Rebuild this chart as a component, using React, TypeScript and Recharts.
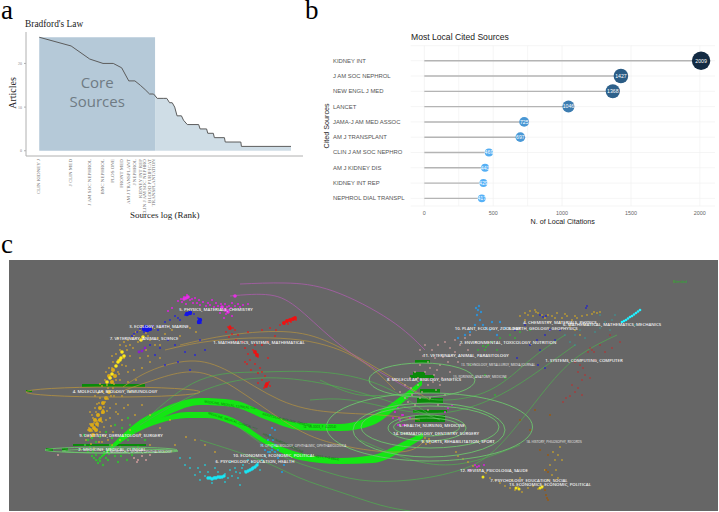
import React from "react";
import { Area, Bar, CartesianGrid, ComposedChart, Line, ReferenceArea, Scatter, XAxis, YAxis } from "recharts";

// ---- Panel a: Bradford's law
const bradfordRanks = [1, 2, 3, 4, 5, 6, 7, 8, 9, 10, 11, 12, 13, 15, 16, 17, 18, 19, 20, 22, 23, 25, 32, 33, 38, 39, 44, 45, 56, 57, 80, 81, 238];
const bradfordArticles = [26, 24, 21, 20, 20, 19, 16, 16, 15, 14, 13, 13, 12, 12, 12, 11, 11, 10, 8, 8, 7, 6, 6, 5, 5, 4, 4, 3, 3, 2, 2, 1, 1];
const coreTickRanks = [1, 2, 3, 4, 5, 6, 7, 8, 9, 10, 11, 12];
const coreSources = ["CLIN KIDNEY J", "J CLIN MED", "J AM SOC NEPHROL", "BMC NEPHROL", "PLOS ONE", "FRONT MED", "AM J TRANSPLANT", "J NEPHROL", "KIDNEY INT REP", "CLIN J AM SOC NEPHRO", "BLOOD PURIFICAT", "TRANSPLANTATION"];

// ---- Panel b: most local cited sources
const citedSources = ["KIDNEY INT", "J AM SOC NEPHROL", "NEW ENGL J MED", "LANCET", "JAMA-J AM MED ASSOC", "AM J TRANSPLANT", "CLIN J AM SOC NEPHRO", "AM J KIDNEY DIS", "KIDNEY INT REP", "NEPHROL DIAL TRANSPL"];
const citedCounts = [2009, 1427, 1368, 1046, 725, 697, 469, 441, 429, 417];

// ---- Panel c: dual map overlay in map units
type P = [number, number];
const goldLeft: P[] = [[88,430],[90,424],[93,418],[96,412],[91,437],[94,428],[99,420],[102,413],[97,404],[100,398],[104,407],[108,399],[103,392],[107,385],[111,378],[114,384],[118,372],[112,368],[118,360],[122,352],[126,346],[120,345],[128,340],[134,335],[140,330],[146,333],[152,328],[138,342],[130,356],[126,366],[120,380],[116,392],[110,408],[106,420],[100,432],[94,436],[98,426],[104,427],[110,418],[116,404],[122,396],[128,382],[134,370],[140,358],[146,350],[133,348],[124,358],[128,372],[116,412],[122,420],[130,430],[140,434],[108,440],[102,442],[113,432],[86,440],[90,412],[95,396],[100,384],[106,372],[112,356],[118,338],[150,340],[158,338],[165,334],[172,330],[180,336],[190,328],[196,332],[160,345],[150,362],[160,358],[142,405],[150,415],[170,420],[160,428],[175,445],[186,437],[195,440],[150,445],[165,452],[205,445],[215,452]];
const goldLeftExtra: P[] = [[89,428],[92,431],[94,423],[97,421],[92,415],[95,408],[99,403],[101,418],[103,410],[105,402],[98,393],[102,386],[105,380],[108,388],[111,396],[113,388],[116,380],[109,368],[113,362],[116,354],[120,350],[124,342],[130,345],[132,338],[136,332],[142,326],[148,336],[127,350],[122,365],[119,374],[114,396],[107,411],[102,422],[97,434],[88,436],[91,444],[99,442],[105,436],[111,426],[118,414],[124,408],[130,392],[136,380],[142,368],[148,356],[155,345],[128,405],[135,415],[112,445],[120,440],[94,448],[100,450]];
const goldLeftCore: P[] = [[92,425],[95,420],[98,415],[100,408],[103,403],[96,430],[93,435],[106,398],[109,392],[112,382],[115,376],[109,376],[113,370],[90,430],[94,428],[97,424],[100,420],[103,412]];
const yellowLeftCore: P[] = [[118,362],[121,358],[124,356],[110,378],[107,382],[143,337],[141,340],[122,352],[112,374],[116,366],[120,360]];
const magentaTop: P[] = [[178,301],[181,299],[184,297],[187,298],[187,295],[190,300],[193,303],[197,303],[200,305],[203,302],[206,306],[210,305],[214,307],[218,306],[222,308],[225,304],[228,310],[226,314],[229,306],[232,303],[235,296],[238,304],[243,305],[248,304],[186,304],[195,298],[212,300],[220,313],[232,316],[224,318],[172,308],[168,311],[182,302],[192,299],[199,300],[208,303],[216,303],[221,304],[227,307],[231,308],[235,306],[240,307]];
const magentaCore: P[] = [[186,298],[184,299],[188,297],[222,307],[225,310],[228,312],[235,296]];
const blueTop: P[] = [[140,329],[143,327],[146,329],[148,331],[150,328],[153,326],[144,332],[137,332],[134,334],[132,336],[188,313],[191,312],[185,315],[194,314],[198,318],[200,320],[201,323],[198,323],[175,316],[178,318],[170,320],[165,322],[180,320],[158,330],[163,326],[150,345],[160,348],[155,355],[175,345],[185,352],[195,355],[165,365],[190,370],[200,340],[168,340],[205,350],[178,362]];
const blueCore: P[] = [[144,329],[147,330],[150,329],[146,327],[200,320],[199,322],[190,313],[187,314]];
const purpleLeft: P[] = [[142,351],[145,348],[139,352]];
const redTop: P[] = [[283,323],[286,321],[289,320],[292,319],[294,318],[296,320],[280,325],[288,324],[291,322],[228,327],[230,326],[233,328],[226,332],[235,330],[232,334],[238,335],[229,337],[236,340],[243,342],[248,332],[262,330],[270,328],[276,330],[262,345],[268,342],[253,350],[256,354],[258,357],[245,348],[248,354],[250,360],[255,364],[260,368],[251,370],[258,373],[262,372],[265,376],[247,364],[268,358],[262,380],[266,384],[269,382],[264,388],[270,386],[258,383],[255,345],[275,336],[245,362]];
const redCore: P[] = [[284,323],[287,321],[290,320],[293,319],[295,318],[255,352],[257,355],[267,384],[266,386],[230,328]];
const greenLeft: P[] = [[84,435],[88,440],[92,438],[96,442],[100,437],[85,445],[90,447],[96,455],[100,458],[104,452],[110,445],[115,456],[120,447],[128,440],[125,452],[132,455],[138,447],[108,460],[92,456],[118,462],[98,463],[103,465],[130,425],[122,428],[115,425],[135,432],[128,418],[145,440],[106,432],[112,438],[96,460],[100,461],[102,456],[94,458],[106,458],[88,452],[93,451],[109,454],[113,450],[121,456],[127,460],[133,448]];
const pinkLeft: P[] = [[134,458],[138,460],[142,456],[137,462],[146,460],[150,455],[140,450],[58,455]];
const cyanLow: P[] = [[180,458],[185,465],[190,468],[195,475],[200,472],[205,476],[210,478],[215,477],[220,478],[225,474],[230,470],[235,468],[240,473],[245,471],[250,470],[253,468],[256,466],[258,463],[262,460],[265,456],[270,452],[272,447],[200,480],[212,483],[225,482],[238,478],[243,465],[215,468],[230,462],[205,465],[190,458],[248,460],[240,485],[198,468],[208,472],[218,472],[228,478],[236,472],[242,468],[252,462],[260,470],[232,476]];
const cyanLowCore: P[] = [[208,478],[210,478],[212,479],[214,478],[216,478],[218,477],[220,477],[222,477],[224,476],[246,472],[248,471],[250,470],[252,469],[253,468],[255,467],[257,465]];
const skyLow: P[] = [[268,440],[270,435],[272,428],[275,430],[262,445],[265,450],[275,445],[278,450],[280,455],[284,465],[282,472],[278,458],[268,452],[273,440],[275,452],[272,450]];
const pinkRight: P[] = [[420,350],[425,345],[432,350],[438,345],[445,342],[450,348],[455,352],[435,358],[428,362],[440,365],[448,362],[420,365],[415,372],[425,372],[434,375],[442,378],[450,372],[410,378],[418,385],[428,385],[436,390],[405,385],[400,392],[412,395],[420,398],[430,398],[440,385],[455,340],[460,345],[465,338],[470,335],[476,342],[468,350],[458,362],[445,395],[408,402],[415,405],[428,410],[438,405],[423,356],[430,368],[437,370],[443,357],[418,378],[426,380],[433,382],[411,388],[405,398],[422,392]];
const magentaRight: P[] = [[395,412],[398,408],[403,415],[400,420],[405,425],[410,418],[445,412],[448,408],[452,405],[398,425],[393,418],[402,415],[399,418],[403,425],[475,465],[477,467],[479,466],[470,470],[484,465]];
const goldRight: P[] = [[425,438],[427,441],[429,439],[426,444],[430,443],[423,442],[456,452],[458,456],[463,459],[468,462],[473,466],[480,470],[486,473],[490,478],[495,480],[500,483],[505,486],[510,488],[515,490],[518,487],[522,492],[528,488],[533,486],[538,489],[543,486],[548,480],[552,475],[556,470],[545,470],[550,465],[555,460],[558,455],[560,447],[553,452],[562,460],[558,478],[520,478],[512,480],[520,316],[525,313],[530,311],[535,310],[538,313],[542,315],[533,316],[545,318],[552,316],[557,313],[562,318],[567,316],[572,320],[577,318],[582,316],[587,315],[592,314],[597,313],[600,312],[570,326],[575,330],[580,335],[560,322],[585,325],[550,322],[525,320],[528,315],[536,312],[548,315],[555,318],[565,314],[575,316],[594,312]];
const yellowBottom: P[] = [[516,488],[519,489],[540,488],[542,487],[483,477]];
const brownBottom: P[] = [[547,498],[546,495],[548,500],[545,490],[546,470],[548,472],[555,480],[548,455],[540,450],[530,430],[520,420],[535,410],[550,415]];
const blueRight: P[] = [[540,315],[543,317],[546,316],[586,308],[587,306],[550,330],[545,335],[537,340],[525,325],[560,330],[530,345],[540,350],[517,358],[555,340],[515,330],[538,365],[545,368]];
const cyanStreak: P[] = [[622,322],[624,321],[626,320],[628,318.5],[630,317],[632,316],[634,314.5],[636,313],[638,311.5],[640,310]];
const tealRight: P[] = [[575,335],[580,330],[590,325],[600,328],[605,322],[612,320],[620,325],[610,330],[595,332],[585,338],[570,342],[615,315],[635,325],[575,345],[600,315],[565,335]];
const redRight: P[] = [[590,348],[592,350],[588,352],[594,352],[605,352],[612,348],[620,342],[575,362],[580,365],[583,368],[578,372],[585,375],[582,380],[590,378],[572,385],[575,392],[570,396],[566,398],[578,388],[563,402],[582,395],[595,360],[600,345],[610,335]];
const greenRight: P[] = [[483,346],[486,347],[488,345],[485,350],[492,342],[500,338],[510,335],[520,332],[478,350],[515,338],[530,330],[497,350],[470,365],[485,375],[495,395],[505,378]];
const skyRight: P[] = [[476,308],[478,310],[479,306],[481,312],[477,315],[480,320],[483,325],[486,328],[490,330],[475,325],[470,332],[465,335],[492,322],[500,322],[505,328],[497,335],[458,338]];

const greenArcs: P[][] = [
  [[145,420],[200,380],[260,372],[320,372],[380,385],[430,415]],
  [[140,425],[200,392],[260,378],[330,385],[400,405],[440,420]],
  [[200,440],[260,460],[300,478],[340,492],[380,505],[410,511]],
  [[240,428],[280,455],[320,470],[360,480],[410,480],[460,470],[500,445],[545,390],[580,355],[617,335]],
  [[310,400],[350,400],[400,410],[450,412],[500,395],[540,370],[575,345]],
  [[320,380],[360,395],[400,395],[440,400],[490,390],[530,360],[565,335]],
  [[360,440],[420,462],[470,462],[520,445]],
];
const orangeArcs: P[][] = [
  [[123,387],[150,371],[190,361],[230,372],[280,400],[330,412],[380,415],[420,420]],
  [[125,390],[160,378],[195,372],[235,388],[290,425],[340,445],[400,452],[425,440]],
  [[180,345],[230,335],[290,332],[335,345],[380,370],[430,400]],
  [[165,350],[220,340],[300,340],[360,360],[395,390]],
];
const magentaArcs: P[][] = [
  [[240,284],[285,283],[333,291],[390,320],[425,350]],
  [[230,296],[270,295],[300,310],[340,345],[385,375],[420,395]],
];
const ribbonUpper: [number, number, number][] = [[96,462,462],[120,437,443],[140,420,430],[153,413,423],[170,405,414],[200,398,405],[233,400,407],[267,413,420],[300,423,430],[340,424,431],[373,415,425],[400,397,405],[422,380,385]];
const ribbonLower: [number, number, number][] = [[96,462,462],[130,430,436],[160,418,423],[187,412,418],[207,412,418],[233,418,425],[267,440,445],[300,453,460],[340,458,464],[373,455,463],[407,440,448],[423,433,438]];

const ellipsesGold = [[113,392,87,5]];
const ellipsesGreen = [[422,380,53,17],[429.5,427,103,34],[429,430,76,27],[430,427,69,21],[427,428,39,13],[426.6,427,33,9],[111,450,66,3],[120,451,58,2]];
const citationBars = [[82,145,384,387],[26,32,390,392],[73,146,444,446],[46,53,448,451],[62,68,448,451],[415,430,360,363],[413,425,372,376],[410,434,375,378],[420,440,389,393],[417,443,398,403],[413,447,410,413],[415,445,415,422]];

const mapLabelText = ["5. PHYSICS, MATERIALS, CHEMISTRY","3. ECOLOGY, EARTH, MARINE","7. VETERINARY, ANIMAL, SCIENCE","1. MATHEMATICS, SYSTEMS, MATHEMATICAL","4. MOLECULAR, BIOLOGY, IMMUNOLOGY","9. DENTISTRY, DERMATOLOGY, SURGERY","2. MEDICINE, MEDICAL, CLINICAL","10. ECONOMICS, ECONOMIC, POLITICAL","6. PSYCHOLOGY, EDUCATION, HEALTH","4. CHEMISTRY, MATERIALS, PHYSICS","6. MATHEMATICAL, MATHEMATICS, MECHANICS","10. PLANT, ECOLOGY, ZOOLOGY","3. EARTH, GEOLOGY, GEOPHYSICS","2. ENVIRONMENTAL, TOXICOLOGY, NUTRITION","1. SYSTEMS, COMPUTING, COMPUTER","11. VETERINARY, ANIMAL, PARASITOLOGY","8. MOLECULAR, BIOLOGY, GENETICS","5. HEALTH, NURSING, MEDICINE","14. DERMATOLOGY, DENTISTRY, SURGERY","9. SPORTS, REHABILITATION, SPORT","12. REVISTA, PSICOLOGIA, SAUDE","7. PSYCHOLOGY, EDUCATION, SOCIAL","13. ECONOMICS, ECONOMIC, POLITICAL"];
const mapLabelX = [216,159,144,259,115,121,112,274,255,560,612,487.7,543,508,584,466,424,432,436,458,494,529,550];
const mapLabelY = [309,326,338,342,391,435,449,455,461,322,324,328,328,342,360,355,379,425,433,441,470,480,484];
const tinyLabelText = ["8. NEUROLOGY, SPORTS, OPHTHALMOLOGY","16. OPHTHALMOLOGY, OPHTHALMIC, OPHTHAMOLOGICA","13. TECHNOLOGY, METALLURGY, MEDIA JOURNAL","15. FORENSIC, ANATOMY, MEDICINE","18. HISTORY, PHILOSOPHY, RECORDS"];
const tinyLabelX = [139,303,498,480,554];
const tinyLabelY = [452,446,365,377,442];
const ribbonText = ["MEDICINE, MEDICAL, CLINICAL ==>","MOLECULAR, BIOLOGY, GENETICS","(Z=55.0003, F=4.2204)","MEDICINE, MEDICAL, CLINICAL ==>","HEALTH, NURSING, MEDICINE","(Z=48.2011, F=3.8802)"];
const ribbonTextX = [230,287,320,233,283,323];
const ribbonTextY = [405,420,427,421,443,457];
const ribbonTextAngle = [8,14,0,18,25,8];

const SANS = "'Liberation Sans', Arial, sans-serif";
const SERIF = "'Liberation Serif', 'Times New Roman', serif";
const MAP = "'Open Sans', 'Noto Sans', sans-serif";

const toXY = (pts: P[]) => pts.map(([x, y]) => ({ x, y }));

function bubbleColor(v: number) {
  const t = (v - 417) / (2009 - 417);
  const lo = [86, 177, 247], hi = [19, 43, 67];
  return `rgb(${lo.map((c, i) => Math.round(c + (hi[i] - c) * t)).join(",")})`;
}
const bubbleRadius = (v: number) => 3.9 + ((v - 417) / 1592) * 5.3;

const bradfordData = bradfordRanks.map((rank, i) => ({ rank, articles: bradfordArticles[i] }));
const tailData = [{ rank: 12.4, articles: 13 }, ...bradfordData.filter((d) => d.rank > 12.4)];
const citedData = citedSources.map((name, i) => ({ name, value: citedCounts[i] }));

function BradfordTick(props: any) {
  const { x, payload } = props;
  const name = coreSources[coreTickRanks.indexOf(payload.value)] ?? "";
  return (
    <text x={0} y={0} transform={`translate(${x + 1.2},129) rotate(-90) scale(1.4,1)`} textAnchor="end" fontSize={3.6} fontFamily={SERIF} fill="#777">
      {name}
    </text>
  );
}

function CitedTick(props: any) {
  const { y, payload } = props;
  return (
    <text x={13} y={y + 2} fontSize={5.9} fontFamily={SANS} fill="#555">
      {payload.value}
    </text>
  );
}

function Bubble(props: any) {
  const { cx, cy, payload } = props;
  if (cx == null) return null;
  const v = payload.value;
  return (
    <g>
      <circle cx={cx} cy={cy} r={bubbleRadius(v)} fill={bubbleColor(v)} />
      <text x={cx} y={cy + 1.9} textAnchor="middle" fontSize={5.2} fontFamily={SANS} fill="#fff">{v}</text>
    </g>
  );
}

function dots(color: string, r: number, opacity = 1) {
  return (p: any) => <circle cx={p.cx} cy={p.cy} r={r} fill={color} fillOpacity={opacity} />;
}

const ellipseShape = (color: string, width: number) => (p: any) => {
  const e = p.payload ?? p;
  return <ellipse cx={p.cx} cy={p.cy} rx={e.rx} ry={e.ry} fill="none" stroke={color} strokeWidth={width} />;
};

const labelShape = (fill: string, size: number, weight: number) => (p: any) => {
  const e = p.payload ?? p;
  return (
    <text x={p.cx} y={p.cy} dy={size * 0.35} textAnchor="middle" fontSize={size} fontWeight={weight} fontFamily={MAP} fill={fill}
      transform={e.angle ? `rotate(${e.angle} ${p.cx} ${p.cy})` : undefined}>
      {e.text}
    </text>
  );
};

const pointLayers: [P[], string, number, number][] = [
  [goldLeft, "#d6a72a", 0.9, 0.85],
  [goldLeftExtra, "#d9a925", 0.9, 0.85],
  [goldLeftCore, "#e2ae12", 2, 0.95],
  [yellowLeftCore, "#ffe81a", 1.8, 1],
  [magentaTop, "#dd22dd", 1.1, 0.95],
  [magentaCore, "#e62ee6", 1.8, 1],
  [blueTop, "#2222dd", 1, 0.9],
  [blueCore, "#1414e6", 2.2, 1],
  [purpleLeft, "#8822cc", 1.4, 1],
  [redTop, "#e01c1c", 0.9, 0.95],
  [redCore, "#f01010", 1.9, 1],
  [greenLeft, "#34c034", 1.2, 0.9],
  [pinkLeft, "#d9a0a0", 1, 0.9],
  [cyanLow, "#1fd0e0", 0.9, 0.9],
  [cyanLowCore, "#19e6f5", 1.7, 1],
  [skyLow, "#1e9fe6", 1.1, 0.95],
  [pinkRight, "#cf9c9c", 0.9, 0.85],
  [magentaRight, "#d624d6", 1.1, 0.95],
  [goldRight, "#c9a22a", 0.9, 0.9],
  [yellowBottom, "#f2e41a", 1.5, 1],
  [brownBottom, "#9a5a10", 1, 0.95],
  [blueRight, "#2222cc", 0.9, 0.9],
  [cyanStreak, "#22f0ff", 1.3, 1],
  [tealRight, "#2aa7a7", 0.8, 0.9],
  [redRight, "#d42020", 0.8, 0.9],
  [greenRight, "#33b533", 1, 0.9],
  [skyRight, "#2a95dd", 1.2, 0.9],
];

function BradfordPanel() {
  return (
    <div style={{ position: "absolute", left: 0, top: 30 }}>
      <ComposedChart width={310} height={200} margin={{ top: 2, right: 7, bottom: 0, left: 0 }} data={bradfordData}>
        <XAxis dataKey="rank" type="number" scale="log" domain={[0.75, 309]} ticks={coreTickRanks} interval={0} height={74} allowDataOverflow
          tick={<BradfordTick />} tickLine={false} stroke="#b0b0b0" />
        <YAxis type="number" domain={[-1.2, 27.2]} ticks={[0, 10, 20]} width={26} allowDataOverflow
          tick={{ fontSize: 4, fill: "#8a8a8a", fontFamily: SERIF }} tickSize={2} stroke="#b0b0b0" />
        <ReferenceArea x1={1} x2={12.4} y1={0} y2={26} fill="#b5c9d8" fillOpacity={1} stroke="none"
          label={(p: any) => {
            const v = p.viewBox;
            const cx = v.x + v.width / 2;
            return (
              <text textAnchor="middle" fontFamily="'Open Sans', sans-serif" fontSize={15} fill="#6f7b84">
                <tspan x={cx} y={58}>Core</tspan>
                <tspan x={cx} y={77}>Sources</tspan>
              </text>
            );
          }} />
        <Area data={tailData} dataKey="articles" stroke="none" fill="#cfdde6" fillOpacity={1} isAnimationActive={false} type="linear" />
        <Line dataKey="articles" stroke="#5c5c5c" strokeWidth={1} dot={false} isAnimationActive={false} type="linear" />
      </ComposedChart>
    </div>
  );
}

function CitedPanel() {
  return (
    <div style={{ position: "absolute", left: 320, top: 40 }}>
      <ComposedChart width={399} height={190} layout="vertical" data={citedData} margin={{ top: 5.7, right: 4, bottom: 0, left: 0 }}>
        <CartesianGrid stroke="#f0f0f0" strokeWidth={0.7} verticalValues={[0, 250, 500, 750, 1000, 1250, 1500, 1750, 2000]} />
        <XAxis type="number" domain={[-99, 2110]} ticks={[0, 500, 1000, 1500, 2000]} height={24} allowDataOverflow axisLine={false} tickLine={false}
          tick={{ fontSize: 5.4, fill: "#666", fontFamily: SANS, dy: -2 }} tickMargin={1} />
        <YAxis type="category" dataKey="name" width={90.7} interval={0} axisLine={false} tickLine={false} tick={<CitedTick />} padding={{ top: 7.37, bottom: 0 }} />
        <Bar dataKey="value" barSize={1.4} fill="#b4b4b4" isAnimationActive={false} />
        <Line dataKey="value" stroke="none" dot={<Bubble />} isAnimationActive={false} />
      </ComposedChart>
    </div>
  );
}

function MapPanel() {
  const ell = (list: number[][]) => list.map(([x, y, rx, ry]) => ({ x, y, rx, ry }));
  const labels = (t: string[], xs: number[], ys: number[], angles?: number[]) =>
    t.map((text, i) => ({ text, x: xs[i], y: ys[i], angle: angles ? angles[i] : 0 }));
  return (
    <div style={{ position: "absolute", left: 9, top: 260, width: 709, height: 251, background: "#666666" }}>
      <ComposedChart width={709} height={251} margin={{ top: 0, right: 0, bottom: 0, left: 0 }}>
        <XAxis dataKey="x" type="number" domain={[9, 718]} hide allowDataOverflow />
        <YAxis dataKey="y" type="number" domain={[260, 511]} reversed hide allowDataOverflow />
        {pointLayers.map(([pts, color, r, op], i) => (
          <Scatter key={`p${i}`} data={toXY(pts)} dataKey="y" isAnimationActive={false} shape={dots(color, r, op)} />
        ))}
        {orangeArcs.map((a, i) => (
          <Line key={`o${i}`} data={toXY(a)} dataKey="y" type="natural" stroke="#b8933f" strokeWidth={0.7} dot={false} isAnimationActive={false} />
        ))}
        {magentaArcs.map((a, i) => (
          <Line key={`m${i}`} data={toXY(a)} dataKey="y" type="natural" stroke="#b45cb4" strokeWidth={0.7} dot={false} isAnimationActive={false} />
        ))}
        {greenArcs.map((a, i) => (
          <Line key={`g${i}`} data={toXY(a)} dataKey="y" type="natural" stroke="#4fb04f" strokeWidth={0.7} dot={false} isAnimationActive={false} />
        ))}
        <Scatter data={ell(ellipsesGold)} dataKey="y" isAnimationActive={false} shape={ellipseShape("#b8933f", 0.8)} />
        <Scatter data={ell(ellipsesGreen)} dataKey="y" isAnimationActive={false} shape={ellipseShape("#6cc46c", 0.9)} />
        {citationBars.map(([x1, x2, y1, y2], i) => (
          <ReferenceArea key={`b${i}`} x1={x1} x2={x2} y1={y1} y2={y2} fill="#0a8a0a" fillOpacity={1} stroke="none" />
        ))}
        <Area data={ribbonUpper.map(([x, lo, hi]) => ({ x, lo, hi }))} dataKey={(d: any) => [d.lo, d.hi]} type="monotone" stroke="none" fill="#14e614" fillOpacity={1} isAnimationActive={false} />
        <Area data={ribbonLower.map(([x, lo, hi]) => ({ x, lo, hi }))} dataKey={(d: any) => [d.lo, d.hi]} type="monotone" stroke="none" fill="#14e614" fillOpacity={1} isAnimationActive={false} />
        <Scatter data={labels(ribbonText, ribbonTextX, ribbonTextY, ribbonTextAngle)} dataKey="y" isAnimationActive={false} shape={labelShape("#0f6e0f", 3.2, 400)} />
        <Scatter data={labels(tinyLabelText, tinyLabelX, tinyLabelY)} dataKey="y" isAnimationActive={false} shape={labelShape("#e6e6e6", 3.2, 400)} />
        <Scatter data={labels(mapLabelText, mapLabelX, mapLabelY)} dataKey="y" isAnimationActive={false} shape={labelShape("#f2f2f2", 4.3, 600)} />
        <Scatter data={labels(["Blended"], [680], [282])} dataKey="y" isAnimationActive={false} shape={labelShape("#22b822", 3.6, 400)} />
      </ComposedChart>
    </div>
  );
}

export default function App() {
  return (
    <div style={{ position: "absolute", left: 0, top: 0, width: 719, height: 512, background: "#fff", overflow: "hidden" }}>
      <BradfordPanel />
      <CitedPanel />
      <MapPanel />
      <svg width={719} height={512} style={{ position: "absolute", left: 0, top: 0, pointerEvents: "none" }}>
        <text x={1} y={18.5} fontFamily={SERIF} fontSize={27} fill="#000">a</text>
        <text x={305} y={19} fontFamily={SERIF} fontSize={27} fill="#000">b</text>
        <text x={1} y={252.7} fontFamily={SERIF} fontSize={27} fill="#000">c</text>
        <text x={25} y={26.7} fontFamily={SERIF} fontSize={9.4} fill="#222">Bradford's  Law</text>
        <text transform="translate(16,93) rotate(-90)" textAnchor="middle" fontFamily={SERIF} fontSize={10} fill="#222">Articles</text>
        <text x={164.7} y={218} textAnchor="middle" fontFamily={SERIF} fontSize={9} fill="#222">Sources log (Rank)</text>
        <text x={411} y={40} fontFamily={SANS} fontSize={8.6} fill="#222">Most Local Cited Sources</text>
        <text transform="translate(329,126) rotate(-90)" textAnchor="middle" fontFamily={SANS} fontSize={7.2} fill="#222">Cited Sources</text>
        <text x={562.7} y={224} textAnchor="middle" fontFamily={SANS} fontSize={7.2} fill="#222">N. of Local Citations</text>
      </svg>
    </div>
  );
}
